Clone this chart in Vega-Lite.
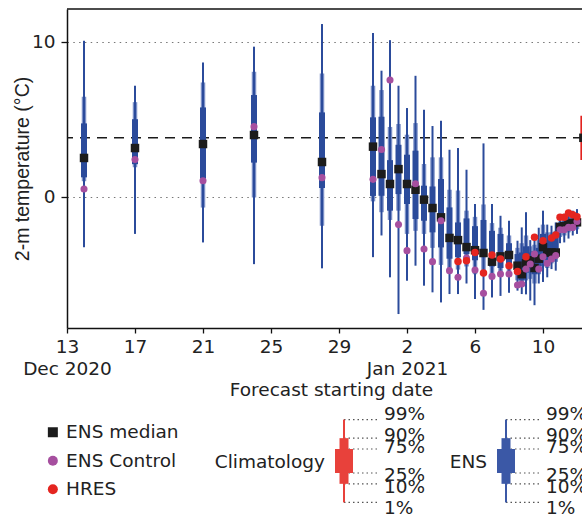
{
  "$schema": "https://vega.github.io/schema/vega-lite/v6.json",
  "background": "white",
  "padding": {"left": 12, "top": 8, "right": 0, "bottom": 0},
  "autosize": {"type": "pad"},
  "config": {
    "font": "DejaVu Sans",
    "view": {"stroke": null},
    "axis": {"labelFontSize": 18.5, "titleFontSize": 18.5, "titleFontWeight": "normal", "labelColor": "#222", "titleColor": "#222", "domainColor": "#111", "domainWidth": 1.5, "tickColor": "#111", "tickWidth": 1.3, "tickSize": 5},
    "legend": {"orient": "none", "legendX": -23.4, "legendY": 414, "title": null, "labelFontSize": 18.5, "labelColor": "#222", "symbolSize": 100, "symbolStrokeWidth": 0, "labelOffset": 4, "rowPadding": 9.5, "padding": 0}
  },
  "resolve": {"scale": {"color": "independent", "shape": "independent"}},
  "bounds": "flush",
  "spacing": 72,
  "datasets": {
    "ens": [
      {"t": "2020-12-14T00:00", "p1": -3.26, "p10": 1.0, "p25": 1.25, "med": 2.5, "p75": 4.73, "p90": 6.45, "p99": 10.06, "ctrl": 0.5},
      {"t": "2020-12-17T00:00", "p1": -2.4, "p10": 1.9, "p25": 2.1, "med": 3.14, "p75": 5.0, "p90": 6.1, "p99": 7.16, "ctrl": 2.4},
      {"t": "2020-12-21T00:00", "p1": -2.95, "p10": -0.7, "p25": 1.16, "med": 3.4, "p75": 5.76, "p90": 7.37, "p99": 8.66, "ctrl": 1.03},
      {"t": "2020-12-24T00:00", "p1": -4.35, "p10": -0.05, "p25": 2.2, "med": 3.98, "p75": 6.56, "p90": 8.06, "p99": 9.68, "ctrl": 4.52},
      {"t": "2020-12-28T00:00", "p1": -4.62, "p10": -1.87, "p25": 0.56, "med": 2.24, "p75": 5.44, "p90": 7.95, "p99": 11.14, "ctrl": 1.23},
      {"t": "2020-12-31T00:00", "p1": -3.9, "p10": -0.3, "p25": 0.05, "med": 3.23, "p75": 5.12, "p90": 7.16, "p99": 10.56, "ctrl": 1.12},
      {"t": "2020-12-31T12:00", "p1": -2.5, "p10": -1.0, "p25": 0.06, "med": 1.46, "p75": 5.16, "p90": 6.88, "p99": 8.13, "ctrl": 3.05},
      {"t": "2021-01-01T00:00", "p1": -5.2, "p10": -1.5, "p25": -0.9, "med": 0.82, "p75": 2.36, "p90": 4.5, "p99": 10.1, "ctrl": 7.53},
      {"t": "2021-01-01T12:00", "p1": -7.57, "p10": -0.9, "p25": 0.17, "med": 1.78, "p75": 3.35, "p90": 4.69, "p99": 7.16, "ctrl": -1.8},
      {"t": "2021-01-02T00:00", "p1": -5.42, "p10": -2.4, "p25": -0.47, "med": 0.82, "p75": 2.71, "p90": 4.0, "p99": 5.72, "ctrl": -3.48},
      {"t": "2021-01-02T12:00", "p1": -4.45, "p10": -2.2, "p25": -1.44, "med": 0.45, "p75": 2.97, "p90": 4.75, "p99": 7.8, "ctrl": 0.84},
      {"t": "2021-01-03T00:00", "p1": -5.74, "p10": -2.4, "p25": -1.55, "med": -0.19, "p75": 0.71, "p90": 2.11, "p99": 5.61, "ctrl": -3.37},
      {"t": "2021-01-03T12:00", "p1": -6.17, "p10": -3.3, "p25": -2.3, "med": -0.73, "p75": 0.66, "p90": 2.54, "p99": 4.56, "ctrl": -4.19},
      {"t": "2021-01-04T00:00", "p1": -6.82, "p10": -4.4, "p25": -3.27, "med": -1.33, "p75": 1.14, "p90": 2.54, "p99": 4.9, "ctrl": -1.55},
      {"t": "2021-01-04T12:00", "p1": -6.28, "p10": -4.6, "p25": -4.0, "med": -2.66, "p75": -0.69, "p90": 0.45, "p99": 3.03, "ctrl": -4.77},
      {"t": "2021-01-05T00:00", "p1": -6.28, "p10": -4.7, "p25": -3.9, "med": -2.8, "p75": -1.66, "p90": 0.4, "p99": 3.14, "ctrl": -5.2, "hres": -4.18},
      {"t": "2021-01-05T12:00", "p1": -5.6, "p10": -4.5, "p25": -3.7, "med": -3.25, "p75": -1.4, "p90": -0.9, "p99": 1.74, "ctrl": -3.96, "hres": -4.13},
      {"t": "2021-01-06T00:00", "p1": -6.6, "p10": -5.0, "p25": -4.1, "med": -3.45, "p75": -1.9, "p90": -1.3, "p99": -0.47, "ctrl": -4.73, "hres": -3.6},
      {"t": "2021-01-06T12:00", "p1": -7.3, "p10": -4.8, "p25": -3.9, "med": -3.63, "p75": -1.5, "p90": -0.5, "p99": 3.44, "ctrl": -6.23, "hres": -4.92},
      {"t": "2021-01-07T00:00", "p1": -6.5, "p10": -5.2, "p25": -4.5, "med": -4.19, "p75": -2.2, "p90": -1.7, "p99": -0.47, "ctrl": -5.14, "hres": -3.76},
      {"t": "2021-01-07T12:00", "p1": -6.4, "p10": -5.0, "p25": -4.6, "med": -3.85, "p75": -2.4, "p90": -2.0, "p99": -1.23, "ctrl": -4.99, "hres": -4.02},
      {"t": "2021-01-08T00:00", "p1": -6.2, "p10": -4.9, "p25": -4.3, "med": -3.76, "p75": -3.0, "p90": -2.5, "p99": -1.55, "ctrl": -4.99, "hres": -4.45},
      {"t": "2021-01-08T12:00", "p1": -6.06, "p10": -5.4, "p25": -5.0, "med": -4.45, "p75": -3.7, "p90": -3.3, "p99": -2.84, "ctrl": -5.7, "hres": -4.82},
      {"t": "2021-01-08T18:00", "p1": -6.28, "p10": -5.8, "p25": -5.4, "med": -5.0, "p75": -3.6, "p90": -3.0, "p99": -1.98, "ctrl": -5.63},
      {"t": "2021-01-09T00:00", "p1": -6.3, "p10": -5.4, "p25": -4.9, "med": -4.3, "p75": -3.2, "p90": -2.5, "p99": -1.0, "ctrl": -4.67, "hres": -3.87},
      {"t": "2021-01-09T06:00", "p1": -6.7, "p10": -5.3, "p25": -4.7, "med": -4.1, "p75": -3.6, "p90": -3.2, "p99": -2.8, "ctrl": -4.34},
      {"t": "2021-01-09T12:00", "p1": -7.0, "p10": -5.6, "p25": -5.0, "med": -4.6, "p75": -3.5, "p90": -3.1, "p99": -2.8, "ctrl": -3.7, "hres": -2.62},
      {"t": "2021-01-09T18:00", "p1": -5.6, "p10": -5.0, "p25": -4.5, "med": -4.0, "p75": -3.3, "p90": -2.8, "p99": -2.0, "ctrl": -4.67},
      {"t": "2021-01-10T00:00", "p1": -5.5, "p10": -4.5, "p25": -3.9, "med": -3.25, "p75": -2.4, "p90": -1.8, "p99": -0.9, "ctrl": -3.87, "hres": -2.84},
      {"t": "2021-01-10T06:00", "p1": -5.2, "p10": -4.6, "p25": -4.1, "med": -3.6, "p75": -2.8, "p90": -2.3, "p99": -1.8, "ctrl": -4.3},
      {"t": "2021-01-10T12:00", "p1": -4.67, "p10": -4.3, "p25": -4.0, "med": -3.6, "p75": -2.8, "p90": -2.3, "p99": -1.87, "ctrl": -4.02, "hres": -2.66},
      {"t": "2021-01-10T18:00", "p1": -4.77, "p10": -4.2, "p25": -3.9, "med": -3.6, "p75": -2.6, "p90": -2.2, "p99": -1.66, "ctrl": -3.8, "hres": -2.47},
      {"t": "2021-01-11T00:00", "p1": -3.0, "p10": -2.6, "p25": -2.3, "med": -1.95, "p75": -1.8, "p90": -1.6, "p99": -1.3, "ctrl": -2.13, "hres": -1.33},
      {"t": "2021-01-11T06:00", "p1": -2.95, "p10": -2.5, "p25": -2.2, "med": -1.9, "p75": -1.6, "p90": -1.4, "p99": -1.1, "ctrl": -2.13, "hres": -1.33},
      {"t": "2021-01-11T12:00", "p1": -2.7, "p10": -2.3, "p25": -2.0, "med": -1.75, "p75": -1.5, "p90": -1.3, "p99": -1.0, "ctrl": -1.98, "hres": -1.05},
      {"t": "2021-01-11T18:00", "p1": -2.5, "p10": -2.2, "p25": -2.0, "med": -1.7, "p75": -1.4, "p90": -1.2, "p99": -0.9, "ctrl": -1.98, "hres": -1.16},
      {"t": "2021-01-12T00:00", "p1": -2.4, "p10": -2.1, "p25": -1.9, "med": -1.65, "p75": -1.3, "p90": -1.1, "p99": -0.8, "ctrl": -1.6, "hres": -1.29}
    ],
    "clim": [
      {"t": "2021-01-12T09:00", "p25": 2.37, "med": 3.8, "p75": 5.23}
    ],
    "leg": [
      {"set": "Climatology", "p1": -2.326, "p10": -1.282, "p25": -0.674, "p75": 0.674, "p90": 1.282, "p99": 2.326},
      {"set": "ENS", "p1": -2.326, "p10": -1.282, "p25": -0.674, "p75": 0.674, "p90": 1.282, "p99": 2.326}
    ],
    "legLab": [
      {"set": "Climatology", "label": "99%", "z": 2.326},
      {"set": "Climatology", "label": "90%", "z": 1.282},
      {"set": "Climatology", "label": "75%", "z": 0.674},
      {"set": "Climatology", "label": "25%", "z": -0.674},
      {"set": "Climatology", "label": "10%", "z": -1.282},
      {"set": "Climatology", "label": "1%", "z": -2.326},
      {"set": "ENS", "label": "99%", "z": 2.326},
      {"set": "ENS", "label": "90%", "z": 1.282},
      {"set": "ENS", "label": "75%", "z": 0.674},
      {"set": "ENS", "label": "25%", "z": -0.674},
      {"set": "ENS", "label": "10%", "z": -1.282},
      {"set": "ENS", "label": "1%", "z": -2.326}
    ]
  },
  "vconcat": [
    {
      "width": 516,
      "height": 319,
      "data": {"name": "ens"},
      "layer": [
        {
          "data": {"name": "clim"},
          "mark": {"type": "rule", "color": "#1a1a1a", "strokeWidth": 1.6, "strokeDash": [10, 7]},
          "encoding": {
            "y": {"field": "med", "type": "quantitative",
              "scale": {"domain": [-8.47, 12.11], "nice": false, "zero": false},
              "axis": {"values": [0, 10], "title": "2-m temperature (°C)", "titleFont": "Liberation Sans", "titleFontSize": 19.5, "grid": true, "gridDash": [1.5, 4.3], "gridColor": "#777", "gridWidth": 1.2, "tickSize": 6, "labelPadding": 6, "titleX": -38.6, "titleBaseline": "alphabetic"}}
          }
        },
        {
          "data": {"values": [{}]},
          "mark": {"type": "rule", "color": "#111", "strokeWidth": 1.5},
          "encoding": {"y": {"datum": 12.11, "type": "quantitative"}}
        },
        {
          "mark": {"type": "rule", "color": "#7b8fc6", "strokeWidth": 4.5, "strokeCap": "butt"},
          "encoding": {
            "x": {"field": "t", "type": "temporal",
              "scale": {"type": "time", "domain": [{"year": 2020, "month": 12, "date": 13}, {"year": 2021, "month": 1, "date": 12, "hours": 8, "minutes": 28}]},
              "axis": {"values": [{"year": 2020, "month": 12, "date": 13}, {"year": 2020, "month": 12, "date": 17}, {"year": 2020, "month": 12, "date": 21}, {"year": 2020, "month": 12, "date": 25}, {"year": 2020, "month": 12, "date": 29}, {"year": 2021, "month": 1, "date": 2}, {"year": 2021, "month": 1, "date": 6}, {"year": 2021, "month": 1, "date": 10}],
                "labelExpr": "date(datum.value) == 13 ? ['13', 'Dec 2020'] : date(datum.value) == 2 ? ['2', 'Jan 2021'] : timeFormat(datum.value, '%-d')",
                "labelLineHeight": 22.3, "labelPadding": 4, "labelFlush": false, "labelOverlap": false, "grid": false,
                "title": "Forecast starting date", "titleX": 264, "titleY": 67.7, "titleBaseline": "alphabetic"}},
            "y": {"field": "p10", "type": "quantitative"},
            "y2": {"field": "p90"}
          }
        },
        {
          "mark": {"type": "rule", "color": "#2b4b9b", "strokeWidth": 2, "strokeCap": "butt"},
          "encoding": {
            "x": {"field": "t", "type": "temporal"},
            "y": {"field": "p1", "type": "quantitative"},
            "y2": {"field": "p99"}
          }
        },
        {
          "mark": {"type": "rule", "color": "#2b4b9b", "strokeWidth": 6, "strokeCap": "butt"},
          "encoding": {
            "x": {"field": "t", "type": "temporal"},
            "y": {"field": "p25", "type": "quantitative"},
            "y2": {"field": "p75"}
          }
        },
        {
          "data": {"name": "clim"},
          "mark": {"type": "rule", "color": "#e2231f", "strokeWidth": 6, "strokeCap": "butt", "clip": true},
          "encoding": {
            "x": {"field": "t", "type": "temporal"},
            "y": {"field": "p25", "type": "quantitative"},
            "y2": {"field": "p75"}
          }
        },
        {
          "mark": {"type": "point", "filled": true, "opacity": 1, "size": 72},
          "encoding": {
            "x": {"field": "t", "type": "temporal"},
            "y": {"field": "med", "type": "quantitative"},
            "color": {"datum": "ENS median", "type": "nominal", "scale": {"domain": ["ENS median", "ENS Control", "HRES"], "range": ["#1c1c1c", "#a64f9f", "#e42520"]}},
            "shape": {"datum": "ENS median", "type": "nominal", "scale": {"domain": ["ENS median", "ENS Control", "HRES"], "range": ["square", "circle", "circle"]}}
          }
        },
        {
          "data": {"name": "clim"},
          "mark": {"type": "point", "filled": true, "opacity": 1, "size": 72, "shape": "square", "color": "#1c1c1c", "clip": true},
          "encoding": {
            "x": {"field": "t", "type": "temporal"},
            "y": {"field": "med", "type": "quantitative"}
          }
        },
        {
          "mark": {"type": "point", "filled": true, "opacity": 1, "size": 50},
          "encoding": {
            "x": {"field": "t", "type": "temporal"},
            "y": {"field": "ctrl", "type": "quantitative"},
            "color": {"datum": "ENS Control", "type": "nominal"},
            "shape": {"datum": "ENS Control", "type": "nominal"}
          }
        },
        {
          "transform": [{"filter": "isValid(datum.hres)"}],
          "mark": {"type": "point", "filled": true, "opacity": 1, "size": 56},
          "encoding": {
            "x": {"field": "t", "type": "temporal"},
            "y": {"field": "hres", "type": "quantitative"},
            "color": {"datum": "HRES", "type": "nominal"},
            "shape": {"datum": "HRES", "type": "nominal"}
          }
        }
      ]
    },
    {
      "width": 516,
      "height": 115,
      "layer": [
        {
          "data": {"name": "legLab"},
          "transform": [
            {"calculate": "indexof(['Climatology', 'ENS'], datum.set)", "as": "xi"},
            {"calculate": "datum.xi + 0.21", "as": "xe"}
          ],
          "mark": {"type": "rule", "strokeDash": [1.5, 3], "color": "#555", "strokeWidth": 1.2},
          "encoding": {
            "x": {"field": "xi", "type": "quantitative", "scale": {"domain": [-1.7099, 1.4753], "nice": false, "zero": false}, "axis": null},
            "x2": {"field": "xe"},
            "y": {"field": "z", "type": "quantitative", "scale": {"domain": [-3.032, 3.425], "nice": false, "zero": false}, "axis": null}
          }
        },
        {
          "data": {"name": "leg"},
          "transform": [{"calculate": "indexof(['Climatology', 'ENS'], datum.set)", "as": "xi"}],
          "mark": {"type": "rule", "strokeWidth": 2, "strokeCap": "butt"},
          "encoding": {
            "x": {"field": "xi", "type": "quantitative"},
            "y": {"field": "p1", "type": "quantitative"},
            "y2": {"field": "p99"},
            "color": {"field": "set", "type": "nominal", "scale": {"domain": ["Climatology", "ENS"], "range": ["#e8413b", "#3b58a6"]}, "legend": null}
          }
        },
        {
          "data": {"name": "leg"},
          "transform": [{"calculate": "indexof(['Climatology', 'ENS'], datum.set)", "as": "xi"}],
          "mark": {"type": "rule", "strokeWidth": 9, "strokeCap": "butt"},
          "encoding": {
            "x": {"field": "xi", "type": "quantitative"},
            "y": {"field": "p10", "type": "quantitative"},
            "y2": {"field": "p90"},
            "color": {"field": "set", "type": "nominal", "scale": {"domain": ["Climatology", "ENS"], "range": ["#e2231f", "#2b4b9b"]}, "legend": null}
          }
        },
        {
          "data": {"name": "leg"},
          "transform": [{"calculate": "indexof(['Climatology', 'ENS'], datum.set)", "as": "xi"}],
          "mark": {"type": "rule", "strokeWidth": 18, "strokeCap": "butt"},
          "encoding": {
            "x": {"field": "xi", "type": "quantitative"},
            "y": {"field": "p25", "type": "quantitative"},
            "y2": {"field": "p75"},
            "color": {"field": "set", "type": "nominal", "scale": {"domain": ["Climatology", "ENS"], "range": ["#e2231f", "#2b4b9b"]}, "legend": null}
          }
        },
        {
          "data": {"name": "leg"},
          "transform": [{"calculate": "indexof(['Climatology', 'ENS'], datum.set)", "as": "xi"}],
          "mark": {"type": "text", "align": "right", "baseline": "alphabetic", "dx": -19, "dy": 7, "fontSize": 18.5, "color": "#222"},
          "encoding": {
            "x": {"field": "xi", "type": "quantitative"},
            "y": {"datum": 0, "type": "quantitative"},
            "text": {"field": "set"}
          }
        },
        {
          "data": {"name": "legLab"},
          "transform": [
            {"calculate": "indexof(['Climatology', 'ENS'], datum.set)", "as": "xi"},
            {"calculate": "datum.z * 1.13", "as": "lz"}
          ],
          "mark": {"type": "text", "align": "left", "baseline": "middle", "dx": 40, "fontSize": 18.5, "color": "#222", "clip": true},
          "encoding": {
            "x": {"field": "xi", "type": "quantitative"},
            "y": {"field": "lz", "type": "quantitative"},
            "text": {"field": "label"}
          }
        }
      ]
    }
  ]
}
